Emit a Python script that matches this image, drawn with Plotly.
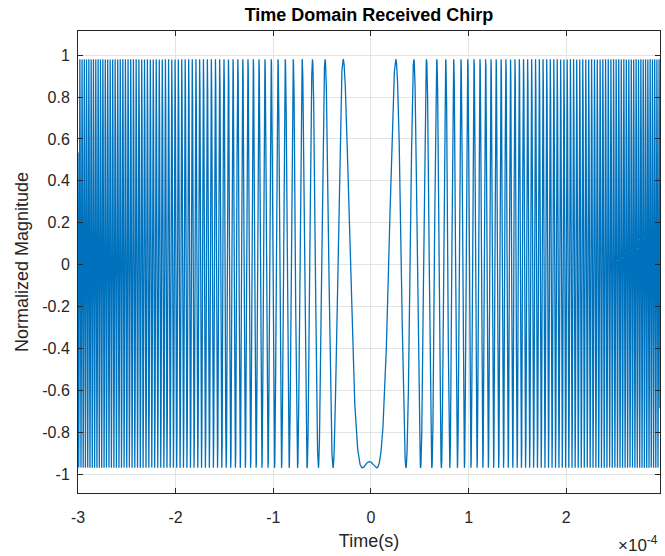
import numpy as np
import plotly.graph_objects as go

# Received linear-FM chirp: model parameters
t_start = -3.0e-4          # s
t_stop = 2.96e-4           # s
fs = 2.0e7                 # sample rate, Hz
chirp_rate = 1.49e9        # k in cos(pi*k*t^2), Hz/s
t_center = -1.5e-6         # s, chirp centre delay
phase_offset = np.pi - 0.25  # rad
amplitude = 0.975
dc_offset = 0.005

# Axis ticks
x_tick_vals = [-3e-4, -2e-4, -1e-4, 0, 1e-4, 2e-4]
x_tick_text = ["-3", "-2", "-1", "0", "1", "2"]
y_tick_vals = [1, 0.8, 0.6, 0.4, 0.2, 0, -0.2, -0.4, -0.6, -0.8, -1]
y_tick_text = ["1", "0.8", "0.6", "0.4", "0.2", "0", "-0.2", "-0.4", "-0.6", "-0.8", "-1"]

t = np.arange(t_start, t_stop, 1.0 / fs)
signal = amplitude * np.cos(np.pi * chirp_rate * (t - t_center) ** 2 + phase_offset) + dc_offset

fig = go.Figure()
fig.add_trace(go.Scatter(
    x=t, y=signal, mode="lines",
    line=dict(color="#0072BD", width=1.3),
    hoverinfo="skip", showlegend=False,
))

font_family = "Liberation Sans, Arial, sans-serif"
axis_common = dict(
    showline=True, linecolor="#262626", linewidth=1, mirror="ticks",
    ticks="inside", ticklen=5, tickcolor="#262626",
    showgrid=True, gridcolor="#e3e3e3", gridwidth=1,
    zeroline=False,
    tickfont=dict(family=font_family, size=16, color="#262626"),
)

fig.update_layout(
    width=665, height=556,
    margin=dict(l=78, r=5, t=31, b=63),
    paper_bgcolor="white", plot_bgcolor="white",
    title=dict(
        text="<b>Time Domain Received Chirp</b>",
        font=dict(family=font_family, size=18, color="#000000"),
        x=(78 + 660) / 2 / 665, xanchor="center",
        y=1 - 15 / 556, yanchor="middle", yref="container",
    ),
    xaxis=dict(
        range=[t_start, t_stop],
        tickvals=x_tick_vals, ticktext=x_tick_text,
        ticklabelstandoff=10,
        title=dict(text="Time(s)", standoff=9,
                   font=dict(family=font_family, size=18, color="#262626")),
        **axis_common,
    ),
    yaxis=dict(
        range=[-1.09, 1.115],
        tickvals=y_tick_vals, ticktext=y_tick_text,
        ticklabelstandoff=4,
        title=dict(text="Normalized Magnitude", standoff=8,
                   font=dict(family=font_family, size=18, color="#262626")),
        **axis_common,
    ),
    annotations=[dict(
        text="×10<sup>-4</sup>", showarrow=False,
        xref="paper", yref="paper", x=1.0, y=0, xanchor="right", yanchor="top",
        yshift=-38,
        font=dict(family=font_family, size=17, color="#262626"),
    )],
)

fig.write_html("out.html")
